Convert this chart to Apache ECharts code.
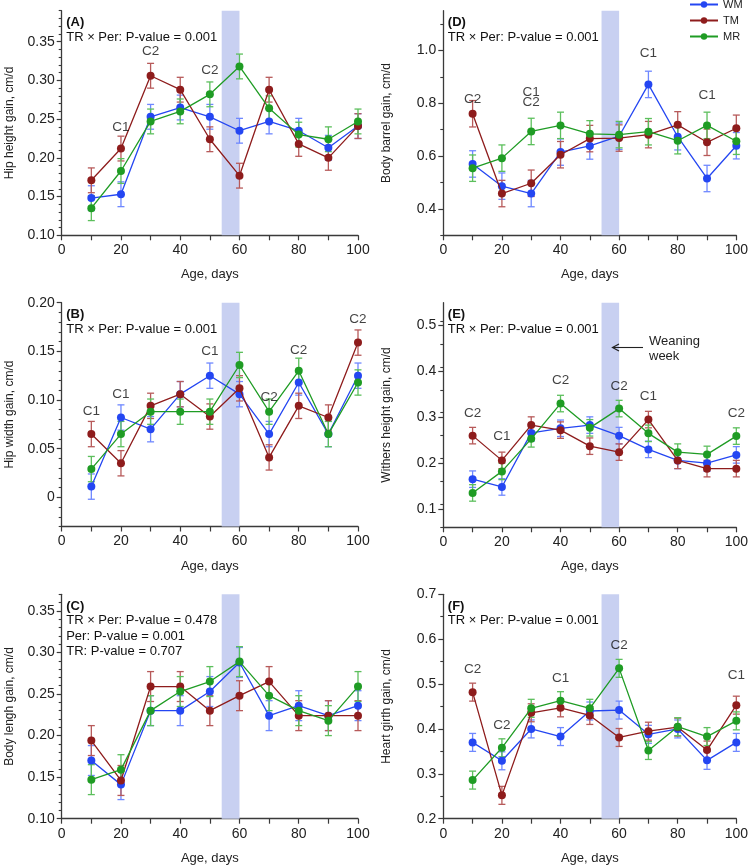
<!DOCTYPE html>
<html><head><meta charset="utf-8">
<script src="https://cdn.jsdelivr.net/npm/echarts@6/dist/echarts.min.js"></script>
<style>html,body{margin:0;padding:0;background:#fff}#c{width:751px;height:867px}</style>
</head><body><div id="c"></div><script>
// ---------- data ----------
const ages = [10, 20, 30, 40, 50, 60, 70, 80, 90, 100];
const groupNames = ['WM', 'TM', 'MR'];
const xTickLabels = ['0', '20', '40', '60', '80', '100'];

// (A) Hip height gain
const A_WM = [0.148, 0.153, 0.253, 0.265, 0.253, 0.235, 0.247, 0.235, 0.213, 0.241];
const A_TM = [0.171, 0.212, 0.306, 0.288, 0.224, 0.177, 0.288, 0.218, 0.200, 0.241];
const A_MR = [0.135, 0.183, 0.247, 0.260, 0.282, 0.318, 0.264, 0.230, 0.224, 0.247];
const A_SE = 0.016;
const A_yLabels = ['0.10', '0.15', '0.20', '0.25', '0.30', '0.35'];
const A_notes = [[20, 0.240, 'C1'], [30, 0.337, 'C2'], [50, 0.313, 'C2']];

// (B) Hip width gain
const B_WM = [0.011, 0.082, 0.070, 0.106, 0.125, 0.106, 0.065, 0.118, 0.065, 0.125];
const B_TM = [0.065, 0.035, 0.094, 0.106, 0.083, 0.112, 0.041, 0.094, 0.082, 0.159];
const B_MR = [0.029, 0.065, 0.088, 0.088, 0.088, 0.136, 0.088, 0.130, 0.065, 0.118];
const B_SE = 0.013;
const B_yLabels = ['0', '0.05', '0.10', '0.15', '0.20'];
const B_notes = [[10, 0.088, 'C1'], [20, 0.106, 'C1'], [50, 0.150, 'C1'], [70, 0.103, 'C2'], [80, 0.151, 'C2'], [100, 0.183, 'C2']];

// (C) Body length gain
const C_WM = [0.170, 0.141, 0.230, 0.230, 0.253, 0.288, 0.224, 0.236, 0.224, 0.236];
const C_TM = [0.194, 0.146, 0.259, 0.259, 0.230, 0.248, 0.265, 0.224, 0.224, 0.224];
const C_MR = [0.147, 0.159, 0.230, 0.253, 0.265, 0.289, 0.248, 0.230, 0.218, 0.259];
const C_SE = 0.018;
const C_yLabels = ['0.10', '0.15', '0.20', '0.25', '0.30', '0.35'];
const C_notes = [];

// (D) Body barrel gain
const D_WM = [0.570, 0.486, 0.458, 0.615, 0.638, 0.675, 0.871, 0.673, 0.515, 0.639];
const D_TM = [0.760, 0.458, 0.497, 0.605, 0.666, 0.668, 0.681, 0.718, 0.652, 0.705];
const D_MR = [0.554, 0.592, 0.693, 0.716, 0.684, 0.681, 0.692, 0.658, 0.716, 0.656];
const D_SE = 0.05;
const D_yLabels = ['0.4', '0.6', '0.8', '1.0'];
const D_notes = [[10, 0.813, 'C2'], [30, 0.842, 'C1'], [30, 0.804, 'C2'], [70, 0.987, 'C1'], [90, 0.829, 'C1']];

// (E) Withers height gain
const E_WM = [0.165, 0.148, 0.266, 0.276, 0.283, 0.260, 0.230, 0.206, 0.200, 0.218];
const E_TM = [0.260, 0.206, 0.283, 0.272, 0.237, 0.224, 0.295, 0.206, 0.188, 0.188];
const E_MR = [0.135, 0.182, 0.253, 0.330, 0.277, 0.319, 0.265, 0.224, 0.219, 0.259];
const E_SE = 0.018;
const E_yLabels = ['0.1', '0.2', '0.3', '0.4', '0.5'];
const E_notes = [[10, 0.308, 'C2'], [20, 0.259, 'C1'], [40, 0.381, 'C2'], [60, 0.368, 'C2'], [70, 0.345, 'C1'], [100, 0.308, 'C2']];

// (F) Heart girth gain
const F_WM = [0.370, 0.329, 0.400, 0.383, 0.440, 0.442, 0.388, 0.400, 0.330, 0.370];
const F_TM = [0.482, 0.252, 0.436, 0.447, 0.430, 0.381, 0.395, 0.404, 0.353, 0.453];
const F_MR = [0.286, 0.358, 0.446, 0.463, 0.446, 0.535, 0.352, 0.405, 0.383, 0.418];
const F_SE = 0.02;
const F_yLabels = ['0.2', '0.3', '0.4', '0.5', '0.6', '0.7'];
const F_notes = [[10, 0.533, 'C2'], [20, 0.409, 'C2'], [40, 0.513, 'C1'], [60, 0.587, 'C2'], [100, 0.520, 'C1']];

const weaningWeek = [54, 60];

// ---------- layout / style ----------
const FONT = '"Liberation Sans", Arial, Helvetica, sans-serif';
const lineColors = ['#2446f2', '#8e1c1c', '#1f9c24'];
const barColors = ['#6f88ff', '#b75a5a', '#5cbf5c'];
const axisColor = '#3a3a3a';

function range(a, b, s) {
  const out = [];
  for (let v = a; v <= b + 1e-9; v += s) out.push(Math.round(v * 1000) / 1000);
  return out;
}
function minorOf(min, max, step, labels) {
  const maj = labels.map(Number);
  return range(min, max, step).filter(v => !maj.some(m => Math.abs(m - v) < 1e-9));
}

const L = 61.7, LW = 296.3, R = 443.3, RW = 293.4;
const panels = [
  { tag: '(A)', head: ['TR × Per: P-value = 0.001'], grid: { left: L, top: 10.7, width: LW, height: 224.6 },
    min: 0.10, max: 0.39, minorStep: 0.01, labels: A_yLabels, yName: 'Hip height gain, cm/d',
    data: [A_WM, A_TM, A_MR], se: A_SE, notes: A_notes, gap: 46 },
  { tag: '(D)', head: ['TR × Per: P-value = 0.001'], grid: { left: R, top: 10.7, width: RW, height: 224.6 },
    min: 0.3, max: 1.15, minorStep: 0.1, labels: D_yLabels, yName: 'Body barrel gain, cm/d',
    data: [D_WM, D_TM, D_MR], se: D_SE, notes: D_notes, gap: 51 },
  { tag: '(B)', head: ['TR × Per: P-value = 0.001'], grid: { left: L, top: 302.7, width: LW, height: 223.8 },
    min: -0.03, max: 0.20, minorStep: 0.01, labels: B_yLabels, yName: 'Hip width gain, cm/d',
    data: [B_WM, B_TM, B_MR], se: B_SE, notes: B_notes, gap: 46 },
  { tag: '(E)', head: ['TR × Per: P-value = 0.001'], grid: { left: R, top: 302.7, width: RW, height: 224.6 },
    min: 0.06, max: 0.55, minorStep: 0.05, labels: E_yLabels, yName: 'Withers height gain, cm/d',
    data: [E_WM, E_TM, E_MR], se: E_SE, notes: E_notes, gap: 51 },
  { tag: '(C)', head: ['TR × Per: P-value = 0.478', 'Per: P-value = 0.001', 'TR: P-value = 0.707'], grid: { left: L, top: 594.3, width: LW, height: 224.4 },
    min: 0.10, max: 0.37, minorStep: 0.01, labels: C_yLabels, yName: 'Body lengh gain, cm/d',
    data: [C_WM, C_TM, C_MR], se: C_SE, notes: C_notes, gap: 46 },
  { tag: '(F)', head: ['TR × Per: P-value = 0.001'], grid: { left: R, top: 594.3, width: RW, height: 224.4 },
    min: 0.2, max: 0.7, minorStep: 0.05, labels: F_yLabels, yName: 'Heart girth gain, cm/d',
    data: [F_WM, F_TM, F_MR], se: F_SE, notes: F_notes, gap: 51 }
];

const grids = [], xAxes = [], yAxes = [], series = [], graphics = [];

panels.forEach((p, i) => {
  grids.push(p.grid);
  xAxes.push({
    type: 'value', gridIndex: i, min: 0, max: 100, interval: 10,
    name: 'Age, days', nameLocation: 'middle', nameGap: 33,
    nameTextStyle: { fontFamily: FONT, fontSize: 13, color: '#222' },
    axisLine: { show: true, onZero: false, lineStyle: { color: axisColor, width: 1.3 } },
    axisTick: { show: true, inside: false, length: 5, lineStyle: { color: axisColor, width: 1.2 } },
    axisLabel: { margin: 8, fontFamily: FONT, fontSize: 14, color: '#222',
      formatter: v => xTickLabels.indexOf(String(v)) >= 0 ? String(v) : '' },
    splitLine: { show: false }
  });
  const majorVals = p.labels.map(Number);
  yAxes.push({
    type: 'value', gridIndex: i, position: 'left', min: p.min, max: p.max,
    name: p.yName, nameLocation: 'middle', nameGap: p.gap, nameRotate: 90,
    nameTextStyle: { fontFamily: FONT, fontSize: 12, color: '#222' },
    axisLine: { show: true, onZero: false, lineStyle: { color: axisColor, width: 1.3 } },
    axisTick: { show: true, length: 5, customValues: majorVals, lineStyle: { color: axisColor, width: 1.2 } },
    axisLabel: { show: true, margin: 7, fontFamily: FONT, fontSize: 14, color: '#222', customValues: majorVals,
      formatter: v => { const l = p.labels.find(s => Math.abs(Number(s) - v) < 1e-9); return l === undefined ? '' : l; } },
    splitLine: { show: false }
  });
  const yMainIndex = yAxes.length - 1;
  yAxes.push({
    type: 'value', gridIndex: i, position: 'left', min: p.min, max: p.max,
    axisLine: { show: false, onZero: false },
    axisTick: { show: true, length: 3, customValues: minorOf(p.min, p.max, p.minorStep, p.labels), lineStyle: { color: axisColor, width: 1.1 } },
    axisLabel: { show: false },
    splitLine: { show: false }
  });

  series.push({
    type: 'line', xAxisIndex: i, yAxisIndex: yMainIndex, data: [], z: 1, silent: true,
    markArea: { silent: true, itemStyle: { color: '#c8d0f1', opacity: 1 },
      data: [[{ xAxis: weaningWeek[0] }, { xAxis: weaningWeek[1] }]] }
  });

  p.data.forEach((vals, g) => {
    const col = barColors[g];
    series.push({
      type: 'custom', xAxisIndex: i, yAxisIndex: yMainIndex, z: 2, silent: true,
      data: ages.map((a, k) => [a, vals[k] - p.se, vals[k] + p.se]),
      encode: { x: 0, y: [1, 2] },
      renderItem: (params, api) => {
        const x = api.value(0);
        const top = api.coord([x, api.value(2)]);
        const bot = api.coord([x, api.value(1)]);
        const w = 3.5;
        const st = { stroke: col, lineWidth: 1.3 };
        return { type: 'group', children: [
          { type: 'line', shape: { x1: top[0], y1: top[1], x2: bot[0], y2: bot[1] }, style: st },
          { type: 'line', shape: { x1: top[0] - w, y1: top[1], x2: top[0] + w, y2: top[1] }, style: st },
          { type: 'line', shape: { x1: bot[0] - w, y1: bot[1], x2: bot[0] + w, y2: bot[1] }, style: st }
        ] };
      }
    });
  });
  p.data.forEach((vals, g) => {
    series.push({
      name: groupNames[g], type: 'line', xAxisIndex: i, yAxisIndex: yMainIndex, z: 3 + g,
      data: ages.map((a, k) => [a, vals[k]]),
      symbol: 'circle', symbolSize: 8, showSymbol: true,
      lineStyle: { color: lineColors[g], width: 1.3 },
      itemStyle: { color: lineColors[g] },
      emphasis: { disabled: true }, animation: false
    });
  });
  if (p.notes.length) {
    series.push({
      type: 'scatter', xAxisIndex: i, yAxisIndex: yMainIndex, z: 10, silent: true,
      symbolSize: 1, itemStyle: { color: 'rgba(0,0,0,0)' },
      data: p.notes,
      label: { show: true, position: 'inside', formatter: d => d.value[2],
        fontFamily: FONT, fontSize: 13.5, color: '#111' }
    });
  }

  const gx = p.grid.left + 4.5, gy = p.grid.top;
  graphics.push({ type: 'text', x: gx, y: gy + 12, style: { text: p.tag, font: 'bold 13px ' + FONT, fill: '#111', verticalAlign: 'middle' } });
  p.head.forEach((t, k) => {
    graphics.push({ type: 'text', x: gx, y: gy + 26.5 + k * 15.5, style: { text: t, font: '13px ' + FONT, fill: '#111', verticalAlign: 'middle' } });
  });
});

// Weaning week arrow + label (panel E)
graphics.push({ type: 'line', shape: { x1: 643, y1: 347.5, x2: 612.5, y2: 347.5 }, style: { stroke: '#222', lineWidth: 1.1 }, z: 100 });
graphics.push({ type: 'polyline', shape: { points: [[619, 344], [612.5, 347.5], [619, 351]] }, style: { stroke: '#222', lineWidth: 1.2, fill: 'none' }, z: 100 });
graphics.push({ type: 'text', x: 649, y: 341.7, style: { text: 'Weaning', font: '13px ' + FONT, fill: '#222', verticalAlign: 'middle' } });
graphics.push({ type: 'text', x: 649, y: 356.7, style: { text: 'week', font: '13px ' + FONT, fill: '#222', verticalAlign: 'middle' } });

const chart = echarts.init(document.getElementById('c'), null, { renderer: 'canvas' });
chart.setOption({
  backgroundColor: '#fff',
  animation: false,
  textStyle: { fontFamily: FONT },
  legend: {
    data: groupNames, orient: 'vertical', left: 689, top: -1, padding: 0,
    itemWidth: 28, itemHeight: 8, itemGap: 5,
    textStyle: { fontFamily: FONT, fontSize: 11, color: '#222' }
  },
  grid: grids, xAxis: xAxes, yAxis: yAxes, series: series, graphic: graphics
});
</script></body></html>
